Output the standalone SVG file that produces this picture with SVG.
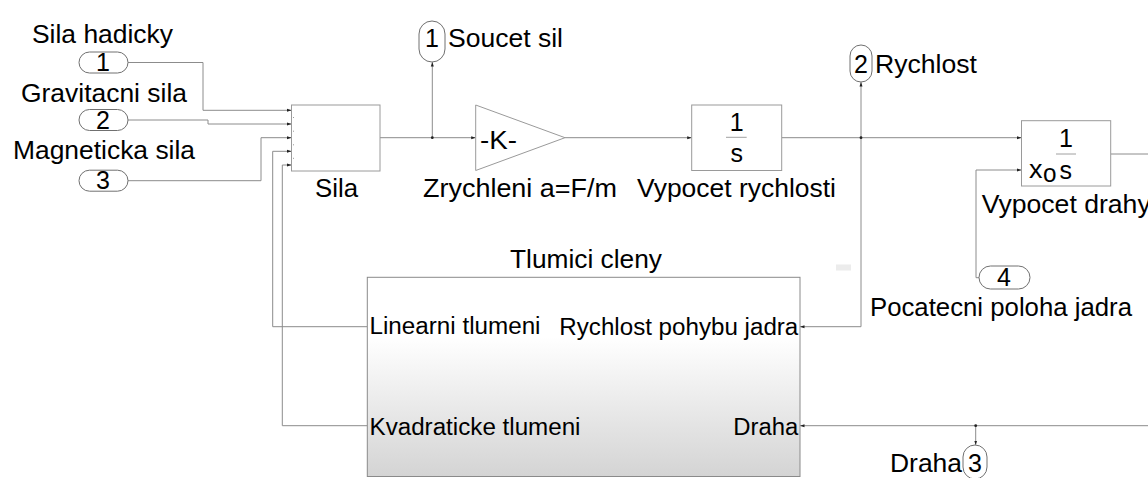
<svg xmlns="http://www.w3.org/2000/svg" width="1148" height="478" viewBox="0 0 1148 478">
<style>
text{font-family:"Liberation Sans",Arial,sans-serif;fill:#000}
.lbl{font-size:25.5px}
.num{font-size:25px}
.pl{font-size:23.5px}
.blk{fill:#fff;stroke:#9a9a9a;stroke-width:1}
.port{fill:#fff;stroke:#707070;stroke-width:1}
.wire{fill:none;stroke:#8c8c8c;stroke-width:1}
.frac{stroke:#a0a0a0;stroke-width:1}
.dot{fill:#222}
</style>
<defs>
<marker id="arr" markerUnits="userSpaceOnUse" markerWidth="5" markerHeight="5" viewBox="0 0 5 5" refX="4.5" refY="2.5" orient="auto">
<path d="M0,1 L4.5,2.5 L0,4 Z" fill="#222"/>
</marker>
<linearGradient id="tg" x1="0" y1="0" x2="0" y2="1">
<stop offset="0" stop-color="#ffffff"/>
<stop offset="0.3" stop-color="#ffffff"/>
<stop offset="1" stop-color="#d4d4d4"/>
</linearGradient>
</defs>

<g id="connectors">
<path class="wire" d="M128,62.5 H203 V110.3 H291.5" marker-end="url(#arr)"/>
<path class="wire" d="M128,120 H208 V124 H291.5" marker-end="url(#arr)"/>
<path class="wire" d="M128,180.7 H261 V137.7 H291.5" marker-end="url(#arr)"/>
<path class="wire" d="M367.3,326.7 H272.7 V151.3 H291.5" marker-end="url(#arr)"/>
<path class="wire" d="M367.3,425.7 H282.3 V165 H291.5" marker-end="url(#arr)"/>
<path class="wire" d="M380,137.7 H475.7" marker-end="url(#arr)"/>
<path class="wire" d="M432.3,137.7 V62" marker-end="url(#arr)"/>
<path class="wire" d="M565,137.7 H691.7" marker-end="url(#arr)"/>
<path class="wire" d="M781.7,137.7 H1021.5" marker-end="url(#arr)"/>
<path class="wire" d="M861,137.7 V82" marker-end="url(#arr)"/>
<path class="wire" d="M861,137.7 V326.7 H800" marker-end="url(#arr)"/>
<path class="wire" d="M979,277.7 H976 V170 H1021.5" marker-end="url(#arr)"/>
<path class="wire" d="M1110.7,154 H1148"/>
<path class="wire" d="M1148,425.7 H800" marker-end="url(#arr)"/>
<path class="wire" d="M975.7,425.7 V445" marker-end="url(#arr)"/>
<circle class="dot" cx="432.3" cy="137.7" r="1.4"/>
<circle class="dot" cx="861" cy="137.7" r="1.4"/>
<circle class="dot" cx="975.7" cy="425.7" r="1.4"/>
</g>

<g id="in1">
<rect class="port" x="79" y="52" width="49" height="21" rx="10.5"/>
<text class="num" x="103" y="71" text-anchor="middle">1</text>
<text class="lbl" x="32" y="43" textLength="141" lengthAdjust="spacingAndGlyphs">Sila hadicky</text>
</g>
<g id="in2">
<rect class="port" x="79" y="109.5" width="49" height="21" rx="10.5"/>
<text class="num" x="103" y="128.8" text-anchor="middle">2</text>
<text class="lbl" x="21" y="102" textLength="166" lengthAdjust="spacingAndGlyphs">Gravitacni sila</text>
</g>
<g id="in3">
<rect class="port" x="79" y="170.2" width="49" height="21" rx="10.5"/>
<text class="num" x="103" y="189" text-anchor="middle">3</text>
<text class="lbl" x="13" y="159" textLength="182" lengthAdjust="spacingAndGlyphs">Magneticka sila</text>
</g>

<g id="sila">
<rect class="blk" x="291.5" y="105" width="88.5" height="66"/>
<g fill="#999">
<rect x="293" y="117" width="1" height="1"/>
<rect x="293" y="130.7" width="1" height="1"/>
<rect x="293" y="144.3" width="1" height="1"/>
<rect x="293" y="157.8" width="1" height="1"/>
</g>
<text class="lbl" x="315" y="197" textLength="43" lengthAdjust="spacingAndGlyphs">Sila</text>
</g>

<g id="out1">
<rect class="port" x="419" y="21" width="26" height="41" rx="13"/>
<text class="num" x="432" y="47" text-anchor="middle">1</text>
<text class="lbl" x="448" y="47" textLength="115" lengthAdjust="spacingAndGlyphs">Soucet sil</text>
</g>

<g id="gain">
<polygon class="blk" points="475.7,105 475.7,170.5 565,137.7"/>
<text class="lbl" x="480" y="148.5" textLength="37" lengthAdjust="spacingAndGlyphs">-K-</text>
<text class="lbl" x="423" y="197" textLength="194" lengthAdjust="spacingAndGlyphs">Zrychleni a=F/m</text>
</g>

<g id="integrator">
<rect class="blk" x="691.7" y="105" width="90" height="65.5"/>
<text class="num" x="736.7" y="130.5" text-anchor="middle">1</text>
<line class="frac" x1="726" y1="137.3" x2="746.7" y2="137.3"/>
<text class="num" x="736.7" y="162" text-anchor="middle">s</text>
<text class="lbl" x="637" y="197" textLength="199" lengthAdjust="spacingAndGlyphs">Vypocet rychlosti</text>
</g>

<g id="out2">
<rect class="port" x="850" y="45" width="22" height="37" rx="11"/>
<text class="num" x="861" y="73.3" text-anchor="middle">2</text>
<text class="lbl" x="875" y="73.3" textLength="102" lengthAdjust="spacingAndGlyphs">Rychlost</text>
</g>

<g id="drahy">
<rect class="blk" x="1021.5" y="120.7" width="89.2" height="65.3"/>
<text class="num" x="1066" y="147" text-anchor="middle">1</text>
<line class="frac" x1="1056" y1="154" x2="1076" y2="154"/>
<text class="num" x="1029" y="178" textLength="13.5" lengthAdjust="spacingAndGlyphs">x</text>
<text class="num" x="1043" y="182" textLength="13.5" lengthAdjust="spacingAndGlyphs">o</text>
<text class="num" x="1059.5" y="178.5" textLength="12.5" lengthAdjust="spacingAndGlyphs">s</text>
<text class="lbl" x="981.7" y="213" textLength="169" lengthAdjust="spacingAndGlyphs">Vypocet drahy</text>
</g>

<g id="in4">
<rect class="port" x="979" y="266" width="51" height="23" rx="11.5"/>
<text class="num" x="1004" y="285.5" text-anchor="middle">4</text>
<text class="lbl" x="870" y="316" textLength="262" lengthAdjust="spacingAndGlyphs">Pocatecni poloha jadra</text>
</g>

<g id="tlumici">
<rect x="367.3" y="277.3" width="432.7" height="199.2" fill="url(#tg)" stroke="#8a8a8a" stroke-width="1"/>
<text class="lbl" x="510" y="268" textLength="152" lengthAdjust="spacingAndGlyphs">Tlumici cleny</text>
<text class="pl" x="369.5" y="334.3" textLength="171" lengthAdjust="spacingAndGlyphs">Linearni tlumeni</text>
<text class="pl" x="369.5" y="435.3" textLength="211" lengthAdjust="spacingAndGlyphs">Kvadraticke tlumeni</text>
<text class="pl" x="559.3" y="335" textLength="239" lengthAdjust="spacingAndGlyphs">Rychlost pohybu jadra</text>
<text class="pl" x="733.3" y="435.3" textLength="65" lengthAdjust="spacingAndGlyphs">Draha</text>
</g>

<g id="out3">
<rect class="port" x="963" y="445" width="24" height="34" rx="12"/>
<text class="num" x="975" y="471.5" text-anchor="middle">3</text>
<text class="lbl" x="890" y="471.7" textLength="72" lengthAdjust="spacingAndGlyphs">Draha</text>
</g>

<rect x="836" y="264.5" width="15" height="6" fill="#ececec"/>
</svg>
